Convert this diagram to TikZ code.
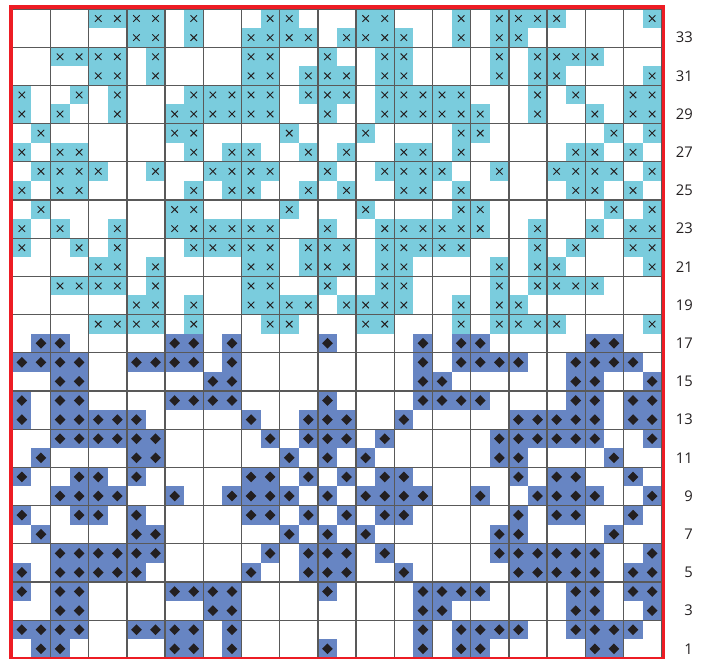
\documentclass[tikz,border=0pt]{standalone}
\usepackage{fontspec}
\setmainfont{Open Sans}
\definecolor{chartcyan}{HTML}{7ACCDD}
\definecolor{chartblue}{HTML}{6785C3}
\definecolor{chartink}{HTML}{231F20}
\definecolor{chartred}{HTML}{ED1C24}

\begin{document}
\begin{tikzpicture}[
  x=5mm, y=5mm,
  gridline/.style={draw=black!65, line width=1pt},
  lightcell/.style={fill=chartcyan},
  darkcell/.style={fill=chartblue},
  crossmark/.style={draw=chartink, line width=0.7pt},
  diamondmark/.style={fill=chartink},
  frame/.style={draw=chartred, line width=2.5pt},
  rowlabel/.style={anchor=east, inner sep=0pt, text=chartink, font=\fontsize{11}{13}\selectfont}
]
\useasboundingbox (-0.644,-0.031) rectangle (36.215,34.471);
\foreach \ra/\rb/\cl in {
  34/18/{5,6,7,8,10,14,15,19,20,24,26,27,28,29,34},
  33/19/{7,8,10,13,14,15,16,18,19,20,21,24,26,27},
  32/20/{3,4,5,6,8,13,14,17,20,21,26,28,29,30,31},
  31/21/{5,6,8,13,14,16,17,18,20,21,26,28,29,34},
  30/22/{1,4,6,10,11,12,13,14,16,17,18,20,21,22,23,24,28,30,33,34},
  29/23/{1,3,6,9,10,11,12,13,14,17,20,21,22,23,24,25,28,31,33,34},
  28/24/{2,9,10,15,19,24,25,32,34},
  27/25/{1,3,4,10,12,13,16,18,21,22,24,30,31,33},
  26/26/{2,3,4,5,8,11,12,13,14,17,20,21,22,23,26,29,30,31,32,34}} {
  \foreach \c in \cl {
    \foreach \r in {\ra,\rb} {
      \fill[lightcell] (\c-1,\r-1) rectangle (\c,\r);
      \draw[crossmark] (\c-0.67,\r-0.67) -- (\c-0.33,\r-0.33) (\c-0.67,\r-0.33) -- (\c-0.33,\r-0.67);
    }
  }
}
\foreach \ra/\rb/\cl in {
  17/1/{2,3,9,10,12,17,22,24,25,31,32},
  16/2/{1,2,3,4,7,8,9,10,12,22,24,25,26,27,30,31,32,33},
  15/3/{3,4,11,12,22,23,30,31,34},
  14/4/{1,3,4,9,10,11,12,17,22,23,24,25,30,31,33,34},
  13/5/{1,3,4,5,6,7,13,16,17,18,21,27,28,29,30,31,33,34},
  12/6/{3,4,5,6,7,8,14,16,17,18,20,26,27,28,29,30,31,34},
  11/7/{2,7,8,15,17,19,26,27,32},
  10/8/{1,4,5,7,13,14,16,18,20,21,27,29,30,33},
  9/9/{3,4,5,6,9,12,13,14,15,17,19,20,21,22,25,28,29,30,31,34}} {
  \foreach \c in \cl {
    \foreach \r in {\ra,\rb} {
      \fill[darkcell] (\c-1,\r-1) rectangle (\c,\r);
      \fill[diamondmark] (\c-0.5,\r-0.78) -- (\c-0.22,\r-0.5) -- (\c-0.5,\r-0.22) -- (\c-0.78,\r-0.5) -- cycle;
    }
  }
}
\draw[gridline] (0,0) grid (34,34);
\draw[frame] (-0.068,-0.03) rectangle (34.08,34.105);
\foreach \r in {1,3,...,33}
  \node[rowlabel] (row\r) at (35.64,\r-0.5) {\r};
\end{tikzpicture}
\end{document}
